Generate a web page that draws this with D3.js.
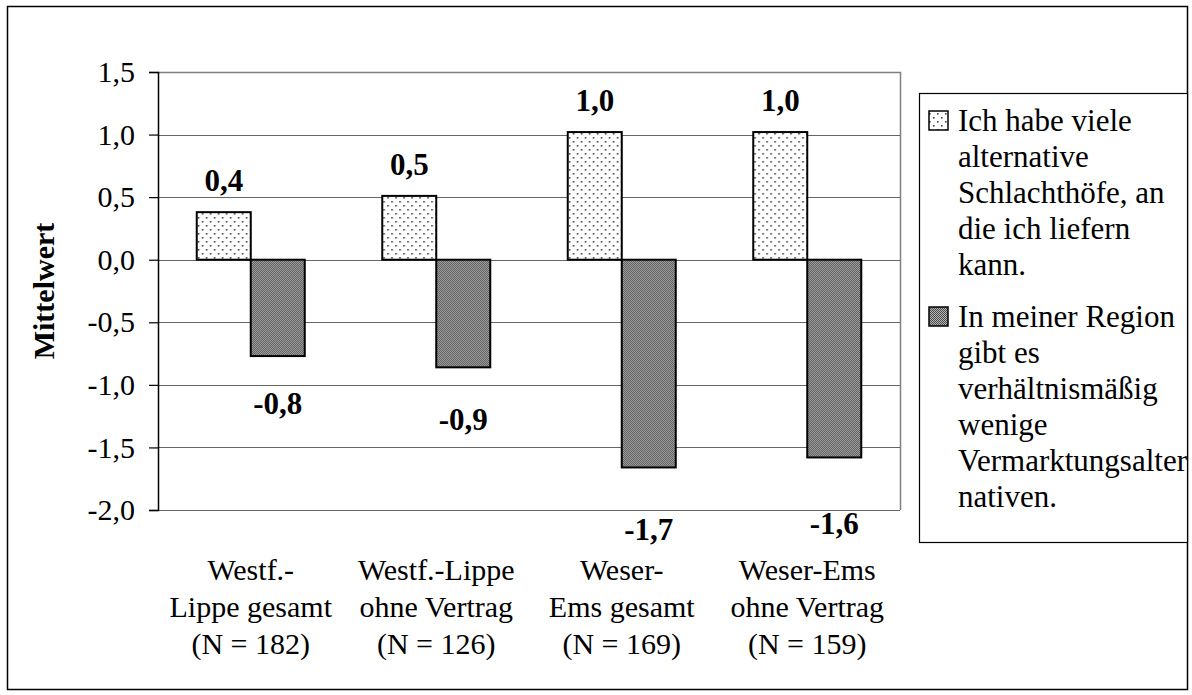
<!DOCTYPE html>
<html>
<head>
<meta charset="utf-8">
<script src="https://cdn.jsdelivr.net/npm/d3@7"></script>
<style>
  html, body { margin: 0; padding: 0; background: #fff; }
  svg { display: block; }
  text { font-family: "Liberation Serif", "Times New Roman", serif; fill: #000; }
</style>
</head>
<body>
<svg id="chart" width="1192" height="695"></svg>
<script>
// Regions (x axis categories), each label split over three lines
const categories = ["WL_ges", "WL_ohne", "WE_ges", "WE_ohne"];
const categoryLines = [
  ["Westf.-", "Lippe gesamt", "(N = 182)"],
  ["Westf.-Lippe", "ohne Vertrag", "(N = 126)"],
  ["Weser-", "Ems gesamt", "(N = 169)"],
  ["Weser-Ems", "ohne Vertrag", "(N = 159)"]
];
// Mean agreement per statement
const seriesNames = ["alternativen", "region"];
const alternativenValues = [0.38, 0.51, 1.02, 1.02];
const regionValues = [-0.77, -0.86, -1.66, -1.58];
const yTicks = [1.5, 1.0, 0.5, 0.0, -0.5, -1.0, -1.5, -2.0];
const legendLines = [
  ["Ich habe viele", "alternative", "Schlachthöfe, an", "die ich liefern", "kann."],
  ["In meiner Region", "gibt es", "verhältnismäßig", "wenige", "Vermarktungsalter", "nativen."]
];

// Extra downward shift (px) of the hand-placed labels under the negative bars
const regionLabelShift = [26, 31, 41, 45];

const svg = d3.select("#chart");
const fmt = v => d3.format(".1f")(v).replace(".", ",").replace("−", "-");

// Fill patterns: light dotted and dense dark
const defs = svg.append("defs");
const pDots = defs.append("pattern").attr("id", "pat-dots")
  .attr("patternUnits", "userSpaceOnUse").attr("width", 8).attr("height", 8);
pDots.append("rect").attr("width", 8).attr("height", 8).attr("fill", "#fff");
pDots.append("rect").attr("x", 1).attr("y", 1).attr("width", 1.6).attr("height", 1.6).attr("fill", "#444");
pDots.append("rect").attr("x", 5).attr("y", 5).attr("width", 1.6).attr("height", 1.6).attr("fill", "#444");

const pDense = defs.append("pattern").attr("id", "pat-dense")
  .attr("patternUnits", "userSpaceOnUse").attr("width", 2).attr("height", 2);
pDense.append("rect").attr("width", 2).attr("height", 2).attr("fill", "#b4b4b4");
pDense.append("rect").attr("x", 0).attr("y", 0).attr("width", 1).attr("height", 1).attr("fill", "#4a4a4a");
pDense.append("rect").attr("x", 1).attr("y", 1).attr("width", 1).attr("height", 1).attr("fill", "#4a4a4a");

const fills = { alternativen: "url(#pat-dots)", region: "url(#pat-dense)" };

// Outer frame
svg.append("rect").attr("x", 7.5).attr("y", 6.5).attr("width", 1180).attr("height", 683)
  .attr("fill", "none").attr("stroke", "#000").attr("stroke-width", 1.5);

const plot = { left: 158, right: 900, top: 72, bottom: 510 };

const x0 = d3.scaleBand().domain(categories).range([plot.left, plot.right]).paddingInner(0).paddingOuter(0);
const y = d3.scaleLinear().domain([-2.0, 1.5]).range([plot.bottom, plot.top]);
const barW = 54;
const x1 = d3.scaleBand().domain(seriesNames).range([0, barW * 2]);

// Gridlines
svg.append("g").selectAll("line").data(yTicks).join("line")
  .attr("x1", plot.left).attr("x2", plot.right)
  .attr("y1", d => Math.round(y(d)) + 0.5).attr("y2", d => Math.round(y(d)) + 0.5)
  .attr("stroke", "#666").attr("stroke-width", 1.2);

// Plot frame (top and right)
svg.append("path")
  .attr("d", `M${plot.left},${plot.top + 0.5}H${plot.right + 0.5}V${plot.bottom}`)
  .attr("fill", "none").attr("stroke", "#808080").attr("stroke-width", 1.5);

// Bars
const rows = categories.map((c, i) => ({ c, values: [
  { s: "alternativen", v: alternativenValues[i], shift: 0 },
  { s: "region", v: regionValues[i], shift: regionLabelShift[i] }
]}));

const groups = svg.append("g").selectAll("g").data(rows).join("g")
  .attr("transform", d => `translate(${x0(d.c) + (x0.bandwidth() - barW * 2) / 2},0)`);

groups.selectAll("rect").data(d => d.values).join("rect")
  .attr("x", d => x1(d.s))
  .attr("width", x1.bandwidth())
  .attr("y", d => y(Math.max(0, d.v)))
  .attr("height", d => Math.abs(y(d.v) - y(0)))
  .attr("fill", d => fills[d.s])
  .attr("stroke", "#000").attr("stroke-width", 2);

// Value labels
groups.selectAll("text.val").data(d => d.values).join("text")
  .attr("class", "val")
  .attr("x", d => x1(d.s) + x1.bandwidth() / 2)
  .attr("y", d => d.v >= 0 ? y(d.v) - 21 : y(d.v) + 32 + d.shift)
  .attr("text-anchor", "middle")
  .style("font-size", "31px").style("font-weight", "bold")
  .text(d => fmt(d.v));

// Y axis
const yAxis = d3.axisLeft(y).tickValues(yTicks).tickSize(9).tickPadding(14)
  .tickFormat(d => fmt(d));
const gy = svg.append("g").attr("transform", `translate(${plot.left},0)`).call(yAxis);
gy.select(".domain").attr("stroke", "#000").attr("stroke-width", 1.5);
gy.selectAll(".tick line").attr("stroke", "#000").attr("stroke-width", 1.2);
gy.selectAll(".tick text").style("font-size", "30px")
  .style("font-family", "'Liberation Serif', 'Times New Roman', serif").attr("fill", "#000");

// Y title
svg.append("text")
  .attr("transform", `translate(54,${(plot.top + plot.bottom) / 2}) rotate(-90)`)
  .attr("text-anchor", "middle")
  .style("font-size", "30px").style("font-weight", "bold")
  .text("Mittelwert");

// X category labels
const xl = svg.append("g").selectAll("text").data(categories).join("text")
  .attr("x", d => x0(d) + x0.bandwidth() / 2)
  .attr("y", 580)
  .attr("text-anchor", "middle")
  .style("font-size", "30px");
xl.selectAll("tspan").data((d, i) => categoryLines[i]).join("tspan")
  .attr("x", function () { return d3.select(this.parentNode).attr("x"); })
  .attr("dy", (d, i) => i === 0 ? 0 : 37)
  .text(d => d);

// Legend
const lg = { x: 919, y: 93, w: 268, h: 449 };
defs.append("clipPath").attr("id", "legend-clip").append("rect")
  .attr("x", lg.x).attr("y", lg.y).attr("width", lg.w).attr("height", lg.h);
svg.append("rect").attr("x", lg.x + 0.5).attr("y", lg.y + 0.5).attr("width", lg.w).attr("height", lg.h)
  .attr("fill", "#fff").attr("stroke", "#000").attr("stroke-width", 1.2);

const lineH = 36;
const firstBase = lg.y + 38;
const itemStart = [firstBase, firstBase + 5 * lineH + 16];
const legendG = svg.append("g").attr("clip-path", "url(#legend-clip)");
seriesNames.forEach((s, i) => {
  const base = itemStart[i];
  legendG.append("rect").attr("x", 929).attr("y", base - 20).attr("width", 19).attr("height", 19)
    .attr("fill", fills[s]).attr("stroke", "#000").attr("stroke-width", 1.5);
  const t = legendG.append("text").attr("x", 958).attr("y", base).style("font-size", "31px");
  t.selectAll("tspan").data(legendLines[i]).join("tspan")
    .attr("x", 958).attr("dy", (d, j) => j === 0 ? 0 : lineH).text(d => d);
});
</script>
</body>
</html>
